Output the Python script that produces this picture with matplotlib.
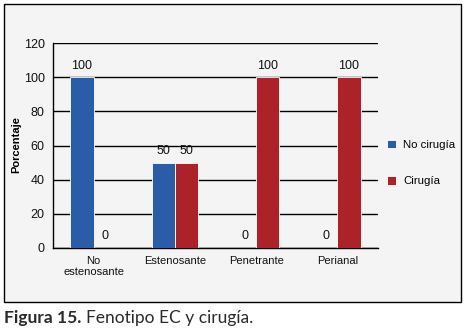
import numpy as np
import matplotlib
matplotlib.use('Agg')
import matplotlib.pyplot as plt
from matplotlib.patches import Rectangle

# data
categories = ['No\nestenosante', 'Estenosante', 'Penetrante', 'Perianal']
no_cirugia = [100, 50, 0, 0]
cirugia = [0, 50, 100, 100]
series_names = ['No cirugía', 'Cirugía']
yticks = [0, 20, 40, 60, 80, 100, 120]

blue = '#2a5ca8'
red = '#ab2329'
narrow = ['Liberation Sans Narrow', 'Liberation Sans', 'DejaVu Sans']

W, H = 468, 333
fig = plt.figure(figsize=(W / 100, H / 100), dpi=100)
fig.patch.set_facecolor('white')

# outer framed panel
panel = Rectangle((4 / W, 1 - 302 / H), 457 / W, 298 / H, transform=fig.transFigure,
                  facecolor='#f4f4f4', edgecolor='black', linewidth=1.0, zorder=-5)
fig.patches.append(panel)

ax = fig.add_axes([53 / W, 1 - 248 / H, 325 / W, 205 / H])
ax.set_facecolor('none')
ax.set_zorder(2)

x = np.arange(len(categories))
w = 0.285
b1 = ax.bar(x - w / 2, no_cirugia, w, color=blue, edgecolor='white', linewidth=0.6,
            label=series_names[0], zorder=3)
b2 = ax.bar(x + w / 2, cirugia, w, color=red, edgecolor='white', linewidth=0.6,
            label=series_names[1], zorder=3)
for bars in (b1, b2):
    ax.bar_label(bars, padding=4, fontsize=9, family=narrow, color='#111111')

ax.set_xlim(-0.5, len(categories) - 0.5)
ax.set_ylim(0, 120)
ax.set_yticks(yticks)
ax.set_xticks(x)
ax.set_xticklabels(categories, fontsize=8, family=narrow, linespacing=1.1)
ax.tick_params(axis='both', length=0, pad=6, colors='#111111')
for lab in ax.get_yticklabels():
    lab.set_fontsize(9)
    lab.set_family(narrow)
ax.yaxis.grid(True, color='black', linewidth=1.0)
ax.set_axisbelow(True)
for s in ('top', 'right'):
    ax.spines[s].set_visible(False)
for s in ('left', 'bottom'):
    ax.spines[s].set_color('black')
    ax.spines[s].set_linewidth(1.0)

fig.text(16 / W, 1 - 145 / H, 'Porcentaje', rotation=90, ha='center', va='center',
         fontsize=8, fontweight='bold', family=narrow)

ax.legend(loc='center left', bbox_to_anchor=(385 / W, 1 - 163 / H),
          bbox_transform=fig.transFigure, frameon=False,
          prop={'family': narrow, 'size': 8.2}, handlelength=0.8, handleheight=0.8,
          handletextpad=0.6, labelspacing=2.3, borderpad=0.2, borderaxespad=0)

# caption
t1 = fig.text(4 / W, 1 - 318 / H, 'Figura 15.', fontsize=12.5, fontweight='bold',
              color='#2b2b2b', va='center', family='Lato')
fig.canvas.draw()
bb = t1.get_window_extent()
fig.text((bb.x1 + 5) / W, 1 - 318 / H, 'Fenotipo EC y cirugía.', fontsize=12.5,
         color='#2b2b2b', va='center', family='Lato')

fig.savefig('out.png', dpi=100)
